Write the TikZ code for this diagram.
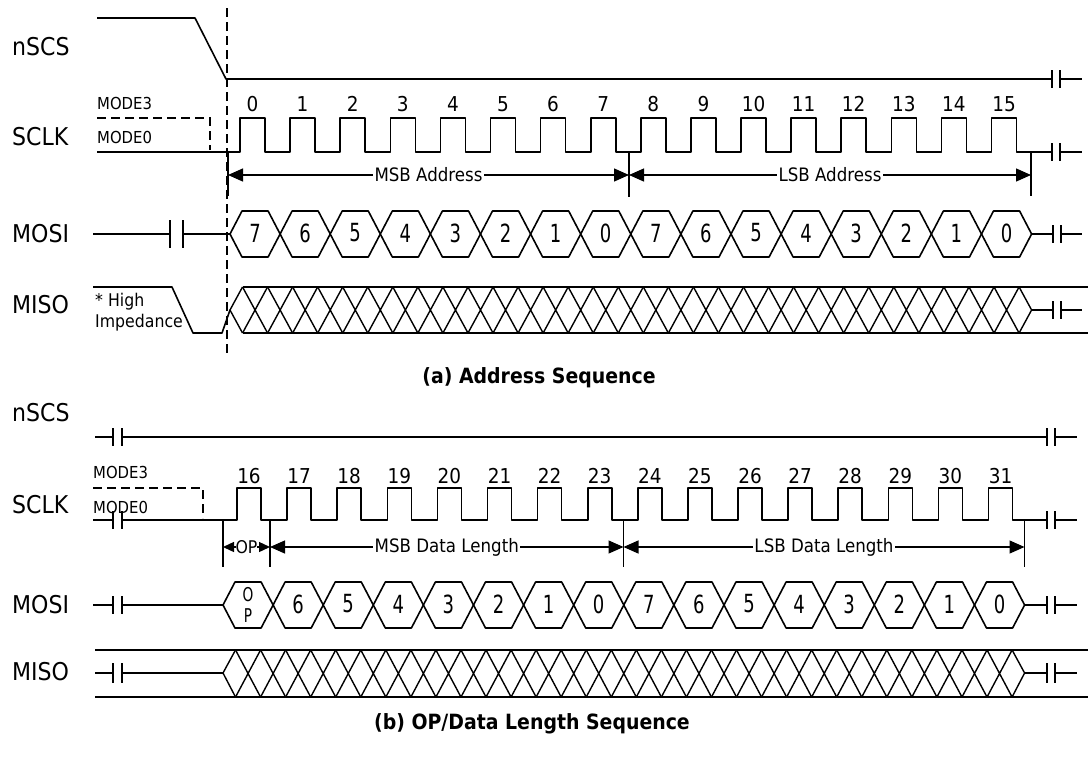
\documentclass[tikz,border=0pt]{standalone}
\usepackage{fontspec}
\setmainfont{DejaVu Sans}[FakeStretch=0.9]
\newfontfamily\tallfont{DejaVu Sans}[FakeStretch=0.72]
\usetikzlibrary{arrows.meta}
\newcommand\brkpair[4]{\draw[sig] ({#1},{#3-#4}) -- ({#1},{#3+#4}) ({#2},{#3-#4}) -- ({#2},{#3+#4});}
\begin{document}
\begin{tikzpicture}[x=1pt,y=-1pt,
  sig/.style={line width=1.6pt, line join=round},
  xsig/.style={line width=1.4pt},
  dashline/.style={line width=1.6pt, dash pattern=on 9pt off 5pt},
  lbl/.style={anchor=west, inner sep=0pt, font=\fontsize{24.5}{24.5}\selectfont},
  num/.style={inner sep=0pt, font=\fontsize{20.5}{20.5}\selectfont},
  hexnum/.style={inner sep=0pt, font=\tallfont\fontsize{25}{25}\selectfont},
  small/.style={anchor=west, inner sep=0pt, font=\fontsize{16.5}{16.5}\selectfont},
  dlbl/.style={fill=white, inner sep=1.5pt, font=\fontsize{18.5}{18.5}\selectfont},
  dimline/.style={line width=1.3pt, {Triangle[length=15pt,width=13pt]}-{Triangle[length=15pt,width=13pt]}},
  opline/.style={line width=1.3pt, {Triangle[length=11pt,width=10pt]}-{Triangle[length=11pt,width=10pt]}},
  captxt/.style={inner sep=0pt, font=\bfseries\fontsize{21}{21}\selectfont}
]
\useasboundingbox[fill=white] (0,0) rectangle (1088,758);

% ================= (a) Address Sequence =================
\node[lbl] (nscsA) at (12,47) {nSCS};
\node[lbl] (sclkA) at (12,137) {SCLK};
\node[lbl] (mosiA) at (12,234) {MOSI};
\node[lbl] (misoA) at (12,305) {MISO};

% nSCS
\draw[sig] (97,18) -- (195,18) -- (226,79) -- (1052,79);
\draw[sig] (1060,79) -- (1082,79);
\brkpair{1052}{1060}{79}{9}

% dashed reference line
\draw[dashline] (227,8) -- (227,356);

% SCLK
\node[small] (m3a) at (97,103) {MODE3};
\node[small] (m0a) at (97,137) {MODE0};
\draw[dashline] (97,118) -- (210,118) -- (210,150);
\draw[sig] (97,152) \foreach \k in {0,...,15} { -- ({240+50.1*\k},152) -- ({240+50.1*\k},118) -- ({265+50.1*\k},118) -- ({265+50.1*\k},152) } -- (1052,152);
\draw[sig] (1060,152) -- (1082,152);
\brkpair{1052}{1060}{152}{9}
\foreach \k in {0,...,15} \node[num] (ca\k) at ({252.5+50.1*\k},104) {\k};

% address markers
\coordinate (mA0) at (228,175);
\coordinate (mA1) at (629,175);
\coordinate (mA2) at (1031,175);
\draw[sig] (228,152) -- (228,196);
\draw[sig] (629,152) -- (629,197);
\draw[sig] (1031,152) -- (1031,196);
\draw[dimline] (mA0) -- (mA1) node[midway, dlbl] (msbA) {MSB Address};
\draw[dimline] (mA1) -- (mA2) node[midway, dlbl] (lsbA) {LSB Address};

% MOSI
\draw[sig] (93,234) -- (170,234);
\draw[sig] (183,234) -- (230,234);
\brkpair{170}{183}{234}{14}
\foreach \k/\d in {0/7,1/6,2/5,3/4,4/3,5/2,6/1,7/0,8/7,9/6,10/5,11/4,12/3,13/2,14/1,15/0} {
  \draw[sig] ({230+50.1*\k},234) -- ({242+50.1*\k},211) -- ({268.1+50.1*\k},211) -- ({280.1+50.1*\k},234) -- ({268.1+50.1*\k},257) -- ({242+50.1*\k},257) -- cycle;
  \node[hexnum] (ha\k) at ({255+50.1*\k},233) {\d};
}
\draw[sig] (1031.6,234) -- (1053,234);
\draw[sig] (1061,234) -- (1082,234);
\brkpair{1053}{1061}{234}{9}

% MISO
\draw[sig] (93,287) -- (172,287) -- (193,333) -- (222,333) -- (230,310);
\node[small, font=\fontsize{17.5}{17.5}\selectfont] (hiA) at (95,302) {* High};
\node[small, font=\fontsize{17.5}{17.5}\selectfont] (impA) at (95,323) {Impedance};
\draw[xsig] (242.5,287) -- (230,310) -- (242.5,333);
\foreach \j in {1,...,31} {
  \draw[xsig] ({230+25.05*\j-12.5},287) -- ({230+25.05*\j+12.5},333)
              ({230+25.05*\j-12.5},333) -- ({230+25.05*\j+12.5},287);
}
\draw[xsig] (1019.1,287) -- (1031.6,310) -- (1019.1,333);
\draw[sig] (242.5,287) -- (1088,287);
\draw[sig] (242.5,333) -- (1088,333);
\draw[sig] (1031.6,310) -- (1053,310);
\draw[sig] (1061,310) -- (1082,310);
\brkpair{1053}{1061}{310}{9}

\node[captxt] (capA) at (539,378) {(a) Address Sequence};

% ================= (b) OP/Data Length Sequence =================
\node[lbl] (nscsB) at (12,413) {nSCS};
\node[lbl] (sclkB) at (12,505) {SCLK};
\node[lbl] (mosiB) at (12,605) {MOSI};
\node[lbl] (misoB) at (12,672) {MISO};

% nSCS
\draw[sig] (95,437) -- (113,437);
\draw[sig] (122,437) -- (1047,437);
\draw[sig] (1055,437) -- (1077,437);
\brkpair{113}{122}{437}{9}
\brkpair{1047}{1055}{437}{9}

% SCLK
\node[small] (m3b) at (93,472) {MODE3};
\node[small] (m0b) at (93,507) {MODE0};
\draw[dashline] (93,488) -- (203,488) -- (203,518);
\draw[sig] (93,520) -- (113,520);
\draw[sig] (122,520) \foreach \k in {0,...,15} { -- ({237+50.1*\k},520) -- ({237+50.1*\k},488) -- ({261+50.1*\k},488) -- ({261+50.1*\k},520) } -- (1047,520);
\draw[sig] (1055,520) -- (1077,520);
\brkpair{113}{122}{520}{9}
\brkpair{1047}{1055}{520}{9}
\foreach \k [evaluate=\k as \n using int(\k+16)] in {0,...,15} \node[num] (cb\k) at ({249+50.1*\k},476) {\n};

% markers
\coordinate (mB0) at (223,547);
\coordinate (mB1) at (270,547);
\coordinate (mB2) at (623.5,547);
\coordinate (mB3) at (1024.5,547);
\draw[sig] (223,520) -- (223,567);
\draw[sig] (270,520) -- (270,567);
\draw[sig] (623.5,520) -- (623.5,567);
\draw[sig] (1024.5,520) -- (1024.5,567);
\draw[opline] (mB0) -- (mB1) node[midway, fill=white, inner sep=0pt, font=\fontsize{17.5}{17.5}\selectfont] (opB) {OP};
\draw[dimline] (mB1) -- (mB2) node[midway, dlbl] (msbB) {MSB Data Length};
\draw[dimline] (mB2) -- (mB3) node[midway, dlbl] (lsbB) {LSB Data Length};

% MOSI
\draw[sig] (93,605) -- (113,605);
\draw[sig] (122,605) -- (223,605);
\brkpair{113}{122}{605}{9}
\foreach \k/\d in {1/6,2/5,3/4,4/3,5/2,6/1,7/0,8/7,9/6,10/5,11/4,12/3,13/2,14/1,15/0} {
  \node[hexnum] (hb\k) at ({248+50.1*\k},604) {\d};
}
\foreach \k in {0,...,15} {
  \draw[sig] ({223+50.1*\k},605) -- ({235+50.1*\k},582) -- ({261.1+50.1*\k},582) -- ({273.1+50.1*\k},605) -- ({261.1+50.1*\k},628) -- ({235+50.1*\k},628) -- cycle;
}
\node[inner sep=0pt, align=center, font=\tallfont\fontsize{19}{21}\selectfont] (hb0) at (248,605) {O\\P};
\draw[sig] (1024.6,605) -- (1047,605);
\draw[sig] (1055,605) -- (1077,605);
\brkpair{1047}{1055}{605}{9}

% MISO
\draw[sig] (95,650) -- (1088,650);
\draw[sig] (95,697) -- (1088,697);
\draw[sig] (95,673) -- (113,673);
\draw[sig] (122,673) -- (223,673);
\brkpair{113}{122}{673}{10}
\draw[xsig] (235.5,650) -- (223,673) -- (235.5,697);
\foreach \j in {1,...,31} {
  \draw[xsig] ({223+25.05*\j-12.5},650) -- ({223+25.05*\j+12.5},697)
              ({223+25.05*\j-12.5},697) -- ({223+25.05*\j+12.5},650);
}
\draw[xsig] (1012.1,650) -- (1024.6,673) -- (1012.1,697);
\draw[sig] (1024.6,673) -- (1047,673);
\draw[sig] (1055,673) -- (1077,673);
\brkpair{1047}{1055}{673}{10}

\node[captxt] (capB) at (532,724) {(b) OP/Data Length Sequence};
\end{tikzpicture}
\end{document}
